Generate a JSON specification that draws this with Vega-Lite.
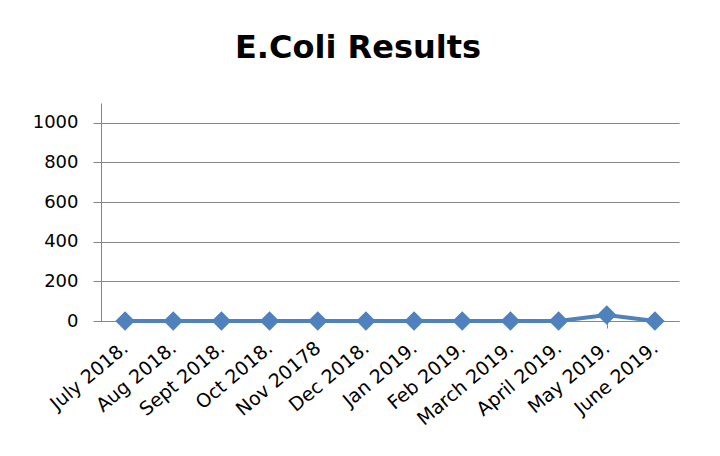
{
  "$schema": "https://vega.github.io/schema/vega-lite/v6.json",
  "autosize": "none",
  "width": 578,
  "height": 218,
  "padding": {"left": 101, "top": 103, "right": 41, "bottom": 135},
  "background": "white",
  "title": {
    "text": "E.Coli Results",
    "font": "DejaVu Sans",
    "fontSize": 32,
    "fontWeight": "bold",
    "color": "#000000",
    "anchor": "middle",
    "baseline": "alphabetic",
    "dx": -32,
    "offset": 13
  },
  "data": {
    "values": [
      {"month": "July 2018.", "value": 0},
      {"month": "Aug 2018.", "value": 0},
      {"month": "Sept  2018.", "value": 0},
      {"month": "Oct 2018.", "value": 0},
      {"month": "Nov 20178", "value": 0},
      {"month": "Dec 2018.", "value": 0},
      {"month": "Jan 2019.", "value": 0},
      {"month": "Feb 2019.", "value": 0},
      {"month": "March 2019.", "value": 0},
      {"month": "April 2019.", "value": 0},
      {"month": "May 2019.", "value": 30},
      {"month": "June 2019.", "value": 0}
    ]
  },
  "config": {
    "view": {"stroke": null},
    "axis": {
      "labelFont": "DejaVu Sans",
      "labelFontSize": 18,
      "labelColor": "#000000",
      "domainColor": "#868686",
      "tickColor": "#868686",
      "gridColor": "#868686",
      "domainWidth": 1,
      "tickWidth": 1,
      "gridWidth": 1
    }
  },
  "mark": {
    "type": "line",
    "color": "#4F81BD",
    "strokeWidth": 4,
    "point": {"shape": "diamond", "size": 380, "filled": true, "color": "#4F81BD", "opacity": 1}
  },
  "encoding": {
    "x": {
      "field": "month",
      "type": "nominal",
      "sort": null,
      "scale": {"paddingInner": 0, "paddingOuter": 0},
      "axis": {
        "title": null,
        "labelAngle": -40,
        "labelAlign": "right",
        "labelBaseline": "middle",
        "labelPadding": 17,
        "labelFontSize": 19,
        "tickSize": 7,
        "bandPosition": 0,
        "grid": false,
        "labelOverlap": false,
        "labelBound": false
      }
    },
    "y": {
      "field": "value",
      "type": "quantitative",
      "scale": {"domain": [0, 1100], "nice": false},
      "axis": {
        "title": null,
        "values": [0, 200, 400, 600, 800, 1000],
        "format": "d",
        "tickSize": 8,
        "labelPadding": 15,
        "grid": true
      }
    }
  }
}
